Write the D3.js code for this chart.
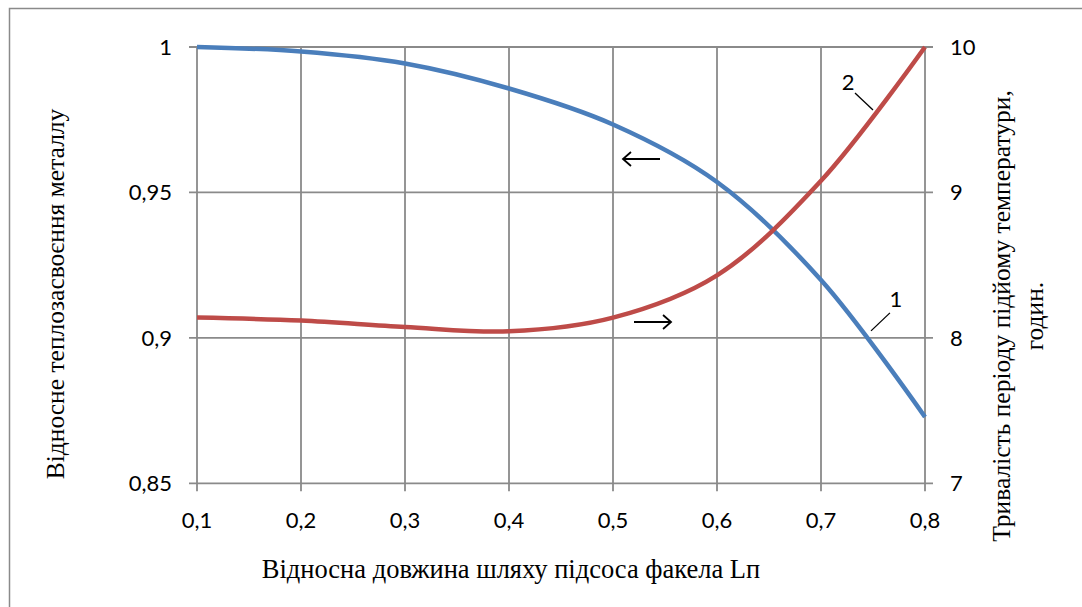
<!DOCTYPE html>
<html lang="uk">
<head>
    <meta charset="UTF-8">
    <title>Відносне теплозасвоєння металу</title>
    <script src="https://d3js.org/d3.v7.min.js"></script>
    <style>
        body { margin: 0; background: #fff; }
        .grid line { stroke: #8a8a8a; stroke-width: 1.8px; }
        .tick-label { font-family: Lato, "Open Sans", sans-serif; font-size: 22px; fill: #000; }
        .title { font-family: "Times New Roman", "Liberation Serif", "DejaVu Serif", serif; font-size: 25.5px; fill: #000; }
    </style>
</head>
<body>
<div id="chart"></div>
<script>
    // Data
    const xValues = [0.1, 0.2, 0.3, 0.4, 0.5, 0.6, 0.7, 0.8];
    const heatRatio = [1.0, 0.99845, 0.99433, 0.98573, 0.97336, 0.95359, 0.9199, 0.8728];
    const heatTime = [8.14, 8.119, 8.075, 8.045, 8.139, 8.43, 9.08, 10.0];

    const xTicks = [0.1, 0.2, 0.3, 0.4, 0.5, 0.6, 0.7, 0.8];
    const leftTicks = [0.85, 0.9, 0.95, 1];
    const rightTicks = [7, 8, 9, 10];

    const xTitle = "Відносна довжина шляху підсоса факела Lп";
    const leftTitle = "Відносне теплозасвоєння металлу";
    const rightTitle = ["Тривалість періоду підйому температури,", "годин."];

    const width = 1082, height = 607;
    const margin = {top: 47, right: 157, bottom: 124, left: 197};

    const svg = d3.select("#chart").append("svg")
        .attr("width", width)
        .attr("height", height);

    svg.append("rect").attr("width", width).attr("height", height).attr("fill", "#fff");

    // outer frame (only top and left edges are visible)
    svg.append("path")
        .attr("d", `M9.5,${height}V8.5H${width}`)
        .attr("fill", "none")
        .attr("stroke", "#8a8a8a")
        .attr("stroke-width", 1.5);

    const x = d3.scaleLinear().domain([0.1, 0.8]).range([margin.left, width - margin.right]);
    const yL = d3.scaleLinear().domain([0.85, 1]).range([height - margin.bottom + 0.3, margin.top]);
    const yR = d3.scaleLinear().domain([7, 10]).range([height - margin.bottom + 0.3, margin.top]);

    const fmt = d => d3.format("")(d).replace(".", ",");

    // grid
    const grid = svg.append("g").attr("class", "grid");
    grid.selectAll(".h").data(leftTicks).enter().append("line")
        .attr("x1", x(0.1) - 8).attr("x2", x(0.8) + 8)
        .attr("y1", d => yL(d)).attr("y2", d => yL(d));
    grid.selectAll(".v").data(xTicks).enter().append("line")
        .attr("x1", d => x(d)).attr("x2", d => x(d))
        .attr("y1", yL(1)).attr("y2", yL(0.85) + 8);

    // tick labels
    svg.append("g").selectAll("text").data(leftTicks).enter().append("text")
        .attr("class", "tick-label")
        .attr("x", x(0.1) - 25).attr("y", d => yL(d))
        .attr("dy", "0.36em").attr("text-anchor", "end")
        .text(fmt);
    svg.append("g").selectAll("text").data(rightTicks).enter().append("text")
        .attr("class", "tick-label")
        .attr("x", x(0.8) + 25).attr("y", d => yR(d))
        .attr("dy", "0.36em").attr("text-anchor", "start")
        .text(fmt);
    svg.append("g").selectAll("text").data(xTicks).enter().append("text")
        .attr("class", "tick-label")
        .attr("x", d => x(d)).attr("y", yL(0.85) + 37)
        .attr("dy", "0.36em").attr("text-anchor", "middle")
        .text(fmt);

    // axis titles
    svg.append("text").attr("class", "title")
        .attr("x", 511).attr("y", 578)
        .style("font-size", "26.5px")
        .attr("text-anchor", "middle").text(xTitle);
    svg.append("text").attr("class", "title")
        .attr("transform", "translate(64,294) rotate(-90)")
        .attr("text-anchor", "middle").text(leftTitle);
    svg.append("g")
        .attr("transform", "translate(1010,316) rotate(-90)")
        .selectAll("text").data(rightTitle).enter().append("text")
        .attr("class", "title")
        .attr("x", 0).attr("y", (d, i) => i * 33)
        .attr("text-anchor", "middle").text(d => d);

    // curves
    const lineL = d3.line().x((d, i) => x(xValues[i])).y(d => yL(d)).curve(d3.curveCatmullRom.alpha(0.5));
    const lineR = d3.line().x((d, i) => x(xValues[i])).y(d => yR(d)).curve(d3.curveCatmullRom.alpha(0.5));

    svg.append("path").datum(heatRatio)
        .attr("d", lineL).attr("fill", "none")
        .attr("stroke", "#4a7ebb").attr("stroke-width", 4.5);
    svg.append("path").datum(heatTime)
        .attr("d", lineR).attr("fill", "none")
        .attr("stroke", "#be4b48").attr("stroke-width", 4.5);

    // annotations (in data units)
    const arrows = [
        {x1: 0.5452, x2: 0.5096, y: yL(0.9615)},
        {x1: 0.5202, x2: 0.5558, y: yR(8.109)}
    ];
    arrows.forEach(a => {
        const px1 = x(a.x1), px2 = x(a.x2), dir = Math.sign(px2 - px1);
        svg.append("path")
            .attr("d", `M${px1},${a.y}H${px2}M${px2 - dir * 8},${a.y - 7}L${px2},${a.y}L${px2 - dir * 8},${a.y + 7}`)
            .attr("fill", "none").attr("stroke", "#000").attr("stroke-width", 1.8);
    });

    const leaders = [
        {x1: 0.7481, y1: yL(0.9024), x2: 0.7663, y2: yL(0.9086), tx: 0.7721, ty: yL(0.9134), label: "1"},
        {x1: 0.7500, y1: yR(9.567), x2: 0.7327, y2: yR(9.684), tx: 0.7260, ty: yR(9.76), label: "2"}
    ];
    leaders.forEach(l => {
        svg.append("line")
            .attr("x1", x(l.x1)).attr("y1", l.y1)
            .attr("x2", x(l.x2)).attr("y2", l.y2)
            .attr("stroke", "#000").attr("stroke-width", 1.3);
        svg.append("text").attr("class", "tick-label")
            .attr("x", x(l.tx)).attr("y", l.ty)
            .attr("dy", "0.36em").attr("text-anchor", "middle")
            .text(l.label);
    });
</script>
</body>
</html>
